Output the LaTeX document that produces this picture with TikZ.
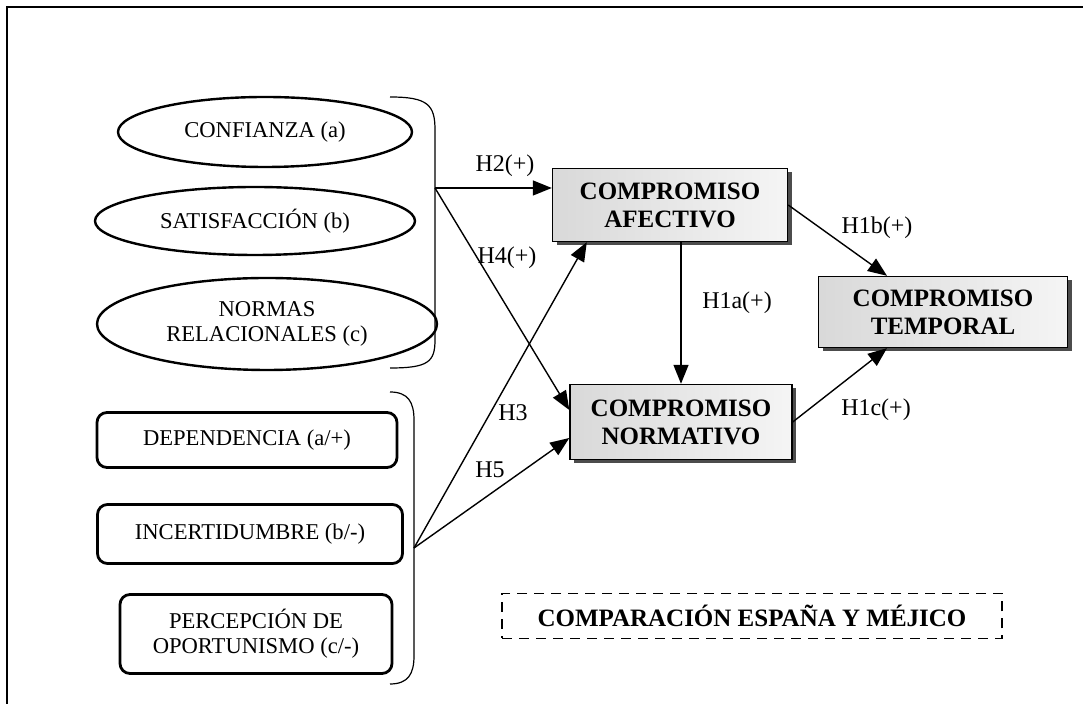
\documentclass[tikz,border=0pt]{standalone}
\usepackage{fontspec}
\setmainfont{Liberation Serif}
\usetikzlibrary{shapes.geometric,arrows.meta,shadows}

\begin{document}
\begin{tikzpicture}[x=0.5pt,y=-0.5pt,
  oval/.style={ellipse,draw,line width=1.2pt,inner sep=0pt,align=center,font=\fontsize{11.3}{12.5}\selectfont},
  rbox/.style={rectangle,rounded corners=5pt,draw,line width=1.4pt,inner sep=0pt,align=center,font=\fontsize{11.3}{12.5}\selectfont},
  comp/.style={rectangle,draw,line width=0.7pt,inner sep=0pt,align=center,left color=gray!30,right color=gray!8,
    drop shadow={shadow xshift=2pt,shadow yshift=-2pt,fill=gray!60!black,opacity=1},font=\bfseries\fontsize{12.5}{14}\selectfont},
  hlab/.style={font=\fontsize{12}{14}\selectfont},
  arr/.style={-{Triangle[length=9.5pt,width=7.5pt]},line width=0.7pt},
  brace/.style={line width=0.6pt}]
\useasboundingbox (0,0) rectangle (1083,704);
% frame
\draw[line width=1pt] (7,704) -- (7,7) -- (1083,7);

% relational variables
\node[oval,minimum width=147pt,minimum height=35pt] (conf) at (265,132) {CONFIANZA (a)};
\node[oval,minimum width=160pt,minimum height=34pt] (sat) at (255,221) {SATISFACCIÓN (b)};
\node[oval,minimum width=170pt,minimum height=46pt] (norm) at (267,324) {NORMAS\\RELACIONALES (c)};
\draw[brace] (390,97) .. controls (428,97) and (435,105) .. (435,130) -- (435,340) .. controls (435,362) and (428,368) .. (390,368);
\coordinate (t1) at (435,188);

% control variables
\node[rbox,minimum width=150pt,minimum height=27.5pt] (dep) at (247,440) {DEPENDENCIA (a/+)};
\node[rbox,minimum width=152.5pt,minimum height=29.5pt] (inc) at (250,534) {INCERTIDUMBRE (b/-)};
\node[rbox,minimum width=136pt,minimum height=39.5pt] (opo) at (256,634) {PERCEPCIÓN DE\\OPORTUNISMO (c/-)};
\draw[brace] (390,392) .. controls (408,392) and (414,402) .. (414,420) -- (414,656) .. controls (414,674) and (408,684) .. (390,684);
\coordinate (t2) at (414,548);

% commitment
\node[comp,minimum width=117.5pt,minimum height=36.5pt] (afe) at (670,205) {COMPROMISO\\AFECTIVO};
\node[comp,minimum width=111pt,minimum height=37.5pt] (nor) at (681,422) {COMPROMISO\\NORMATIVO};
\node[comp,minimum width=124.5pt,minimum height=35.5pt] (tem) at (943,312) {COMPROMISO\\TEMPORAL};

% hypotheses
\draw[arr] (t1) -- (afe.west |- t1);
\draw[arr] (t1) -- ([yshift=6pt]nor.west);
\draw[arr] (t2) -- ([xshift=17.5pt]afe.south west);
\draw[arr] (t2) -- ([yshift=-8pt]nor.west);
\draw[arr] (afe.south -| nor.north) -- (nor.north);
\draw[arr] (afe.east) -- ([xshift=-28pt]tem.north);
\draw[arr] (nor.east) -- ([xshift=-28pt]tem.south);

\node[hlab] (h2) at (505,166) {H2(+)};
\node[hlab] (h4) at (507,258) {H4(+)};
\node[hlab] (h3) at (513,413) {H3};
\node[hlab] (h5) at (490,470) {H5};
\node[hlab] (h1a) at (737,303) {H1a(+)};
\node[hlab] (h1b) at (877,228) {H1b(+)};
\node[hlab] (h1c) at (876,410) {H1c(+)};

\node[draw,dash pattern=on 5pt off 3.5pt,line width=0.7pt,minimum width=250pt,minimum height=22.5pt,inner sep=0pt,
  font=\bfseries\fontsize{12.5}{14}\selectfont] (cmp) at (752,616) {COMPARACIÓN ESPAÑA Y MÉJICO};
\end{tikzpicture}
\end{document}
